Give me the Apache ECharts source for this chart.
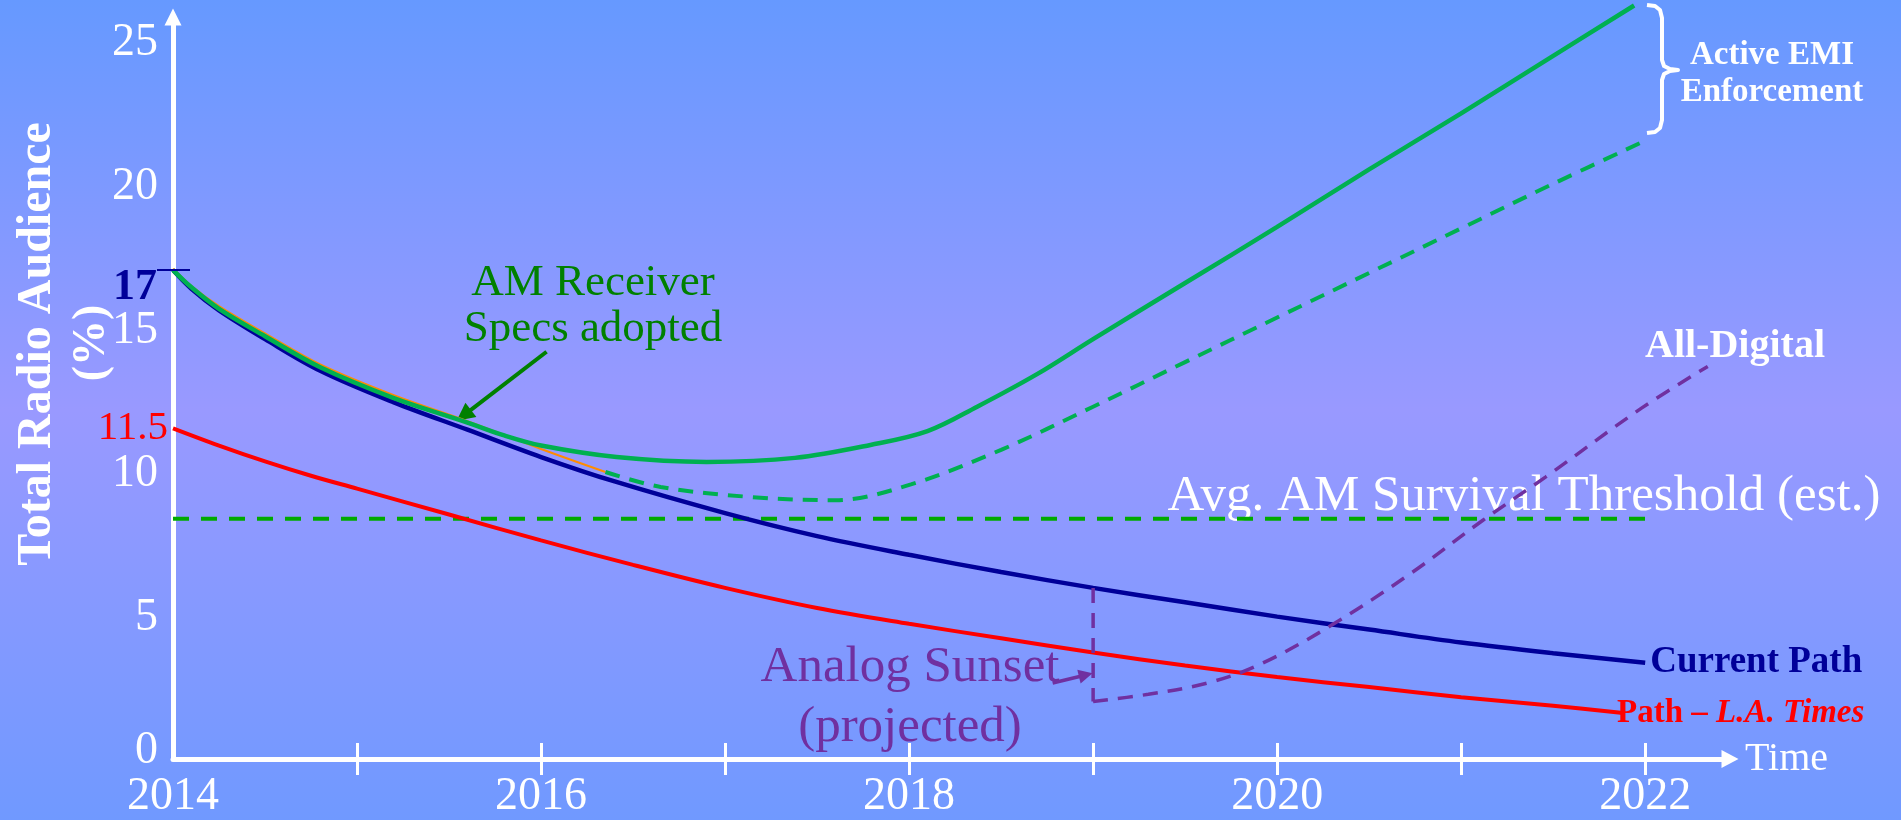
<!DOCTYPE html>
<html>
<head>
<meta charset="utf-8">
<title>Total Radio Audience</title>
<script src="https://cdn.jsdelivr.net/npm/echarts@6/dist/echarts.min.js"></script>
<style>
  html, body { margin: 0; padding: 0; overflow: hidden; }
  #chart { width: 1901px; height: 820px; }
</style>
</head>
<body>
<div id="chart"></div>
<script>
// ---- data -------------------------------------------------------------
const tickYears = [2015, 2016, 2017, 2018, 2019, 2020, 2021, 2022];
const labelYears = [2014, 2016, 2018, 2020, 2022];

const survivalThreshold = 8.35;
const thresholdSpan = [2014, 2022];

const currentPath = [
  [2014.0, 17.0], [2014.1, 16.35], [2014.25, 15.6], [2014.5, 14.6], [2014.8, 13.5],
  [2015.2, 12.4], [2015.6, 11.45], [2016.0, 10.5], [2016.4, 9.65], [2017.0, 8.55],
  [2017.5, 7.75], [2018.0, 7.1], [2018.5, 6.5], [2019.0, 5.95], [2019.5, 5.45],
  [2020.0, 4.95], [2020.5, 4.5], [2021.0, 4.05], [2021.5, 3.68], [2022.0, 3.35]
];

const laTimesPath = [
  [2014.0, 11.5], [2014.25, 10.9], [2014.5, 10.35], [2014.75, 9.85], [2015.0, 9.4],
  [2015.5, 8.5], [2016.0, 7.6], [2016.5, 6.75], [2017.0, 5.95], [2017.5, 5.25],
  [2018.0, 4.7], [2018.5, 4.2], [2019.0, 3.7], [2019.5, 3.25], [2020.0, 2.85],
  [2020.5, 2.5], [2021.0, 2.15], [2021.5, 1.85], [2021.88, 1.6]
];

const receiverSpecsPath = [
  [2014.0, 17.05], [2014.1, 16.45], [2014.25, 15.75], [2014.5, 14.8], [2014.8, 13.72],
  [2015.2, 12.65], [2015.6, 11.75], [2016.0, 10.78], [2016.35, 9.98]
];

const emiEnforcementPath = [
  [2014.0, 17.0], [2014.1, 16.4], [2014.25, 15.65], [2014.5, 14.7], [2014.8, 13.62],
  [2015.2, 12.55], [2015.6, 11.7], [2015.8, 11.25], [2016.0, 10.9], [2016.41, 10.5],
  [2016.9, 10.33], [2017.38, 10.47], [2017.79, 10.92], [2018.1, 11.4], [2018.37, 12.25],
  [2018.7, 13.4], [2019.0, 14.6], [2019.5, 16.55], [2020.0, 18.5], [2020.5, 20.5],
  [2021.0, 22.45], [2021.5, 24.45], [2021.94, 26.2]
];

const specsOnlyPath = [
  [2016.35, 9.98], [2016.65, 9.46], [2017.14, 9.11], [2017.6, 9.0], [2018.01, 9.55],
  [2018.5, 10.75], [2019.0, 12.25], [2019.5, 13.8], [2020.0, 15.35], [2020.5, 16.9],
  [2021.0, 18.45], [2021.5, 20.0], [2022.0, 21.5]
];

const sunsetDrop = [[2019.0, 5.95], [2019.0, 2.0]];

const allDigitalPath = [
  [2019.0, 2.0], [2019.3, 2.25], [2019.62, 2.64], [2019.9, 3.27], [2020.29, 4.63],
  [2020.73, 6.47], [2021.12, 8.31], [2021.46, 9.81], [2021.98, 12.2], [2022.34, 13.65]
];

// ---- styling ----------------------------------------------------------
const SERIF = '"Liberation Serif", "DejaVu Serif", serif';
const WHITE = '#ffffff';
const NAVY = '#000099';
const RED = '#ff0000';
const GREEN = '#00b050';
const DARK_GREEN = '#008000';
const THRESH_GREEN = '#00aa00';
const ORANGE = '#ff8c00';
const PURPLE = '#7030a0';

const chart = echarts.init(document.getElementById('chart'), null, { renderer: 'canvas' });

function lineSeries(name, data, color, width, extra) {
  return Object.assign({
    name: name,
    type: 'line',
    data: data,
    symbol: 'none',
    showSymbol: false,
    smooth: 0.35,
    lineStyle: { color: color, width: width },
    emphasis: { disabled: true },
    silent: true
  }, extra || {});
}

const xScale = { type: 'value', min: 2014, max: 2022.45 };

chart.setOption({
  animation: false,
  backgroundColor: {
    type: 'linear', x: 0, y: 0, x2: 0, y2: 1,
    colorStops: [
      { offset: 0, color: '#6699ff' },
      { offset: 0.5, color: '#9999ff' },
      { offset: 1, color: '#7099ff' }
    ]
  },
  grid: { left: 173, top: 17, width: 1555, height: 742, containLabel: false, outerBoundsMode: 'none' },
  xAxis: [
    Object.assign({}, xScale, {
      position: 'bottom',
      name: 'Time',
      nameLocation: 'end',
      nameGap: 17,
      nameTextStyle: { color: WHITE, fontFamily: SERIF, fontSize: 40, verticalAlign: 'middle' },
      axisLine: {
        show: true, onZero: false,
        symbol: ['none', 'triangle'], symbolSize: [18, 17], symbolOffset: [0, 2],
        lineStyle: { color: WHITE, width: 5 }
      },
      axisTick: { show: true, customValues: tickYears, length: 16, inside: false, lineStyle: { color: WHITE, width: 3 } },
      axisLabel: {
        show: true, customValues: labelYears, margin: 15,
        color: WHITE, fontFamily: SERIF, fontSize: 46, lineHeight: 46,
        formatter: v => String(v)
      },
      splitLine: { show: false }
    }),
    Object.assign({}, xScale, {
      position: 'bottom',
      axisLine: { show: false },
      axisTick: { show: true, customValues: tickYears, length: 16, inside: true, lineStyle: { color: WHITE, width: 3 } },
      axisLabel: { show: false },
      splitLine: { show: false }
    })
  ],
  yAxis: {
    type: 'value', min: 0, max: 25.8, interval: 5,
    axisLine: {
      show: true, onZero: false,
      symbol: ['none', 'triangle'], symbolSize: [17, 17],
      lineStyle: { color: WHITE, width: 5 }
    },
    axisTick: { show: false },
    axisLabel: {
      color: WHITE, fontFamily: SERIF, fontSize: 46, margin: 15, showMaxLabel: false,
      padding: [6, 0, 0, 0],
      formatter: v => (v === 0 ? '{zero|0}' : (v % 5 === 0 ? String(v) : '')),
      rich: { zero: { color: WHITE, fontFamily: SERIF, fontSize: 46, padding: [0, 0, 22, 0] } }
    },
    splitLine: { show: false }
  },
  series: [
    lineSeries('Avg. AM Survival Threshold', [[thresholdSpan[0], survivalThreshold], [thresholdSpan[1], survivalThreshold]],
      THRESH_GREEN, 4, { smooth: false, z: 1, lineStyle: { color: THRESH_GREEN, width: 4, type: [16, 12] } }),
    lineSeries('Path – L.A. Times', laTimesPath, RED, 4, {
      z: 3,
      endLabel: {
        show: true, distance: 0, offset: [-6, 0],
        formatter: 'Path – {i|L.A. Times}',
        color: RED, fontFamily: SERIF, fontSize: 33, fontWeight: 'bold',
        rich: { i: { color: RED, fontFamily: SERIF, fontSize: 33, fontWeight: 'bold', fontStyle: 'italic' } }
      }
    }),
    lineSeries('Current Path', currentPath, NAVY, 4.5, {
      z: 4,
      endLabel: {
        show: true, distance: 5,
        formatter: 'Current Path',
        color: NAVY, fontFamily: SERIF, fontSize: 37, fontWeight: 'bold'
      }
    }),
    lineSeries('Receiver specs', receiverSpecsPath, ORANGE, 2, { z: 5 }),
    lineSeries('Specs adopted, no enforcement', specsOnlyPath, GREEN, 4,
      { z: 5, lineStyle: { color: GREEN, width: 4, type: [15, 10] } }),
    lineSeries('Active EMI Enforcement', emiEnforcementPath, GREEN, 4.5, {
      z: 6, clip: false,
      markLine: {
        silent: true, animation: false,
        symbol: ['none', 'triangle'], symbolSize: 18,
        label: { show: false },
        lineStyle: { color: DARK_GREEN, width: 4, type: 'solid' },
        data: [[{ coord: [2016.03, 14.16] }, { coord: [2015.58, 11.95] }]]
      }
    }),
    lineSeries('Analog Sunset', sunsetDrop, PURPLE, 3.5,
      { smooth: false, z: 6, lineStyle: { color: PURPLE, width: 3.5, type: [15, 10] } }),
    lineSeries('All-Digital', allDigitalPath, PURPLE, 3.5, {
      z: 6, lineStyle: { color: PURPLE, width: 3.5, type: [15, 10] },
      markLine: {
        silent: true, animation: false,
        symbol: ['none', 'triangle'], symbolSize: 14,
        label: { show: false },
        lineStyle: { color: PURPLE, width: 3.5, type: 'solid' },
        data: [[{ coord: [2018.78, 2.64] }, { coord: [2018.96, 2.92] }]]
      }
    })
  ]
});

// ---- annotations -----------------------------------------------------
// (x, y) is where the centre of the capitals should sit
function txt(x, y, text, size, color, opts) {
  const o = opts || {};
  const el = {
    type: 'text', z: o.z || 0, silent: true,
    x: x, y: y + 4,
    style: {
      x: 0, y: 0, text: text,
      font: (o.italic ? 'italic ' : '') + (o.bold ? 'bold ' : '') + size + 'px ' + SERIF,
      fill: color,
      align: o.align || 'center', verticalAlign: 'middle',
      textAlign: o.align || 'center', textVerticalAlign: 'middle',
      lineHeight: o.lineHeight || size
    }
  };
  if (o.rotation) {
    el.rotation = o.rotation;
    el.x = x + 4;
    el.y = y;
  }
  return el;
}

const p17 = chart.convertToPixel({ gridIndex: 0 }, [currentPath[0][0], currentPath[0][1]]);
const pRed = chart.convertToPixel({ gridIndex: 0 }, [laTimesPath[0][0], laTimesPath[0][1]]);

chart.setOption({
  graphic: [
    txt(34, 344, 'Total Radio Audience', 48, WHITE, { bold: true, rotation: Math.PI / 2 }),
    txt(88, 343, '(%)', 46, WHITE, { bold: true, rotation: Math.PI / 2 }),
    txt(157, p17[1] + 14, String(currentPath[0][1]), 44, NAVY, { bold: true, align: 'right', z: 10 }),
    { type: 'line', z: 10, silent: true, shape: { x1: 157, y1: p17[1], x2: 190, y2: p17[1] }, style: { stroke: NAVY, lineWidth: 2 } },
    txt(168, pRed[1] - 4, String(laTimesPath[0][1]), 41, RED, { align: 'right', z: 10 }),
    txt(593, 302, 'AM Receiver\nSpecs adopted', 45, DARK_GREEN, { lineHeight: 46 }),
    txt(1524, 493, 'Avg. AM Survival Threshold (est.)', 51, WHITE),
    txt(1735, 343, 'All-Digital', 40, WHITE, { bold: true }),
    txt(1772, 70, 'Active EMI\nEnforcement', 33, WHITE, { bold: true, lineHeight: 37 }),
    {
      type: 'polyline', silent: true, z: 10,
      shape: {
        points: [[1647, 5], [1655, 6], [1660, 10], [1662, 18], [1662, 60], [1664, 66], [1670, 69], [1678, 70],
                 [1670, 71], [1664, 74], [1662, 80], [1662, 120], [1660, 128], [1655, 132], [1647, 133]]
      },
      style: { stroke: WHITE, fill: null, lineWidth: 4, lineJoin: 'round' }
    },
    txt(910, 694, 'Analog Sunset\n(projected)', 51, PURPLE, { lineHeight: 60 })
  ]
});
</script>
</body>
</html>
